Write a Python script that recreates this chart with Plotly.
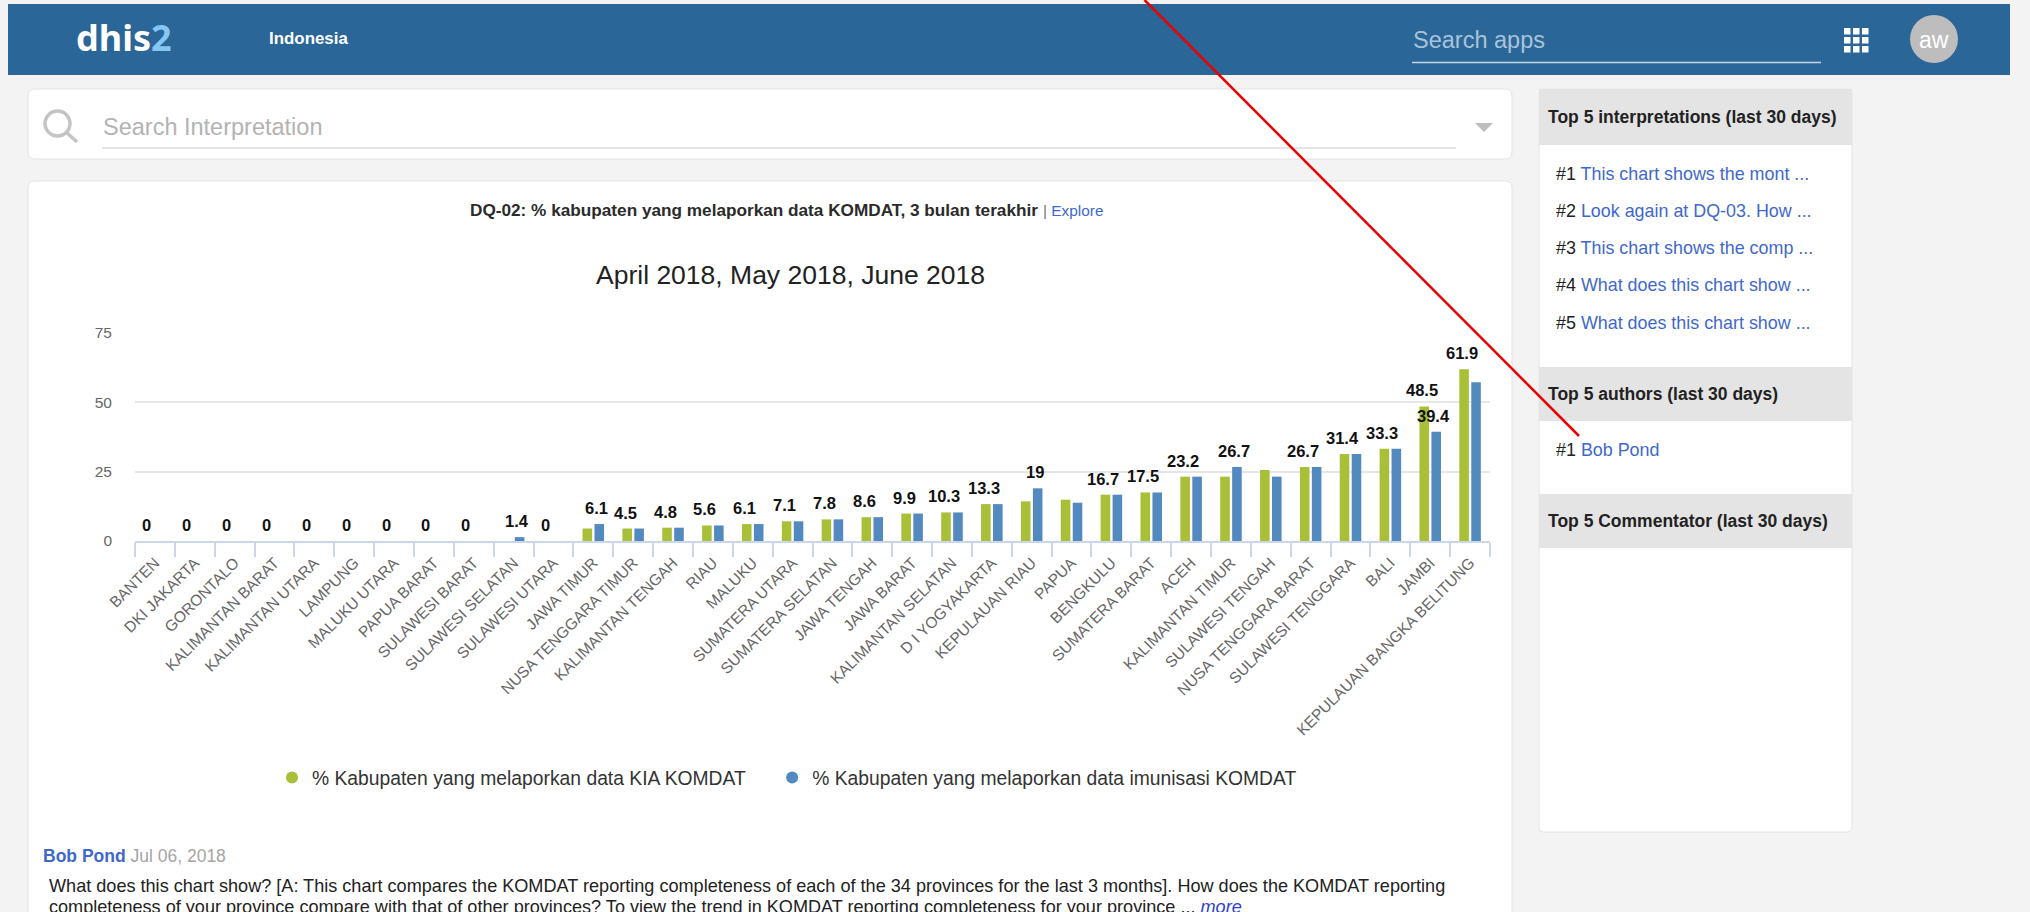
import plotly.graph_objects as go

W, H = 2030, 912

categories = ["BANTEN", "DKI JAKARTA", "GORONTALO", "KALIMANTAN BARAT", "KALIMANTAN UTARA", "LAMPUNG",
              "MALUKU UTARA", "PAPUA BARAT", "SULAWESI BARAT", "SULAWESI SELATAN", "SULAWESI UTARA",
              "JAWA TIMUR", "NUSA TENGGARA TIMUR", "KALIMANTAN TENGAH", "RIAU", "MALUKU", "SUMATERA UTARA",
              "SUMATERA SELATAN", "JAWA TENGAH", "JAWA BARAT", "KALIMANTAN SELATAN", "D I YOGYAKARTA",
              "KEPULAUAN RIAU", "PAPUA", "BENGKULU", "SUMATERA BARAT", "ACEH", "KALIMANTAN TIMUR",
              "SULAWESI TENGAH", "NUSA TENGGARA BARAT", "SULAWESI TENGGARA", "BALI", "JAMBI",
              "KEPULAUAN BANGKA BELITUNG"]
kia = [0, 0, 0, 0, 0, 0, 0, 0, 0, 0, 0, 4.5, 4.5, 4.8, 5.6, 6.1, 7.1, 7.8, 8.6, 9.9, 10.3, 13.3,
       14.3, 14.9, 16.7, 17.5, 23.2, 23.2, 25.6, 26.7, 31.4, 33.3, 48.5, 61.9]
imunisasi = [0, 0, 0, 0, 0, 0, 0, 0, 0, 1.4, 0, 6.1, 4.5, 4.8, 5.6, 6.1, 7.1, 7.8, 8.6, 9.9, 10.3, 13.3,
             19, 13.8, 16.7, 17.5, 23.2, 26.7, 23.2, 26.7, 31.4, 33.3, 39.4, 57.2]
# Data labels that are visible in the picture (the others are hidden by overlap)
kia_labels = [0, 0, 0, 0, 0, 0, 0, 0, 0, None, 0, None, 4.5, 4.8, 5.6, 6.1, 7.1, 7.8, 8.6, 9.9, 10.3, 13.3,
              None, None, 16.7, 17.5, 23.2, None, None, 26.7, 31.4, 33.3, 48.5, 61.9]
imunisasi_labels = [None, None, None, None, None, None, None, None, None, 1.4, None, 6.1, None, None, None,
                    None, None, None, None, None, None, None, 19, None, None, None, None, 26.7, None, None,
                    None, None, 39.4, None]
y_ticks = [0, 25, 50, 75]
series_names = ["% Kabupaten yang melaporkan data KIA KOMDAT\u00a0\u00a0\u00a0\u00a0",
                "% Kabupaten yang melaporkan data imunisasi KOMDAT"]
GREEN, BLUE = "#a9bf38", "#5289bf"
FONT = "Liberation Sans"
LINK = "#3f68cc"


def px(x):
    return x / W


def py(y):
    return 1 - y / H


shapes = []
annotations = []


def rect(x0, y0, x1, y1, fill, line=None, layer="below"):
    shapes.append(dict(type="rect", xref="paper", yref="paper", x0=px(x0), x1=px(x1), y0=py(y1), y1=py(y0),
                       fillcolor=fill, line=dict(color=line or "rgba(0,0,0,0)", width=1 if line else 0), layer=layer))


def card(x0, y0, x1, y1, r=7, fill="white", line="#e4e4e4"):
    p = (f"M {px(x0+r)} {py(y0)} L {px(x1-r)} {py(y0)} Q {px(x1)} {py(y0)} {px(x1)} {py(y0+r)} "
         f"L {px(x1)} {py(y1-r)} Q {px(x1)} {py(y1)} {px(x1-r)} {py(y1)} L {px(x0+r)} {py(y1)} "
         f"Q {px(x0)} {py(y1)} {px(x0)} {py(y1-r)} L {px(x0)} {py(y0+r)} Q {px(x0)} {py(y0)} {px(x0+r)} {py(y0)} Z")
    shapes.append(dict(type="path", xref="paper", yref="paper", path=p, fillcolor=fill,
                       line=dict(color=line, width=1), layer="below"))


def seg(x0, y0, x1, y1, color, width=1, layer="below"):
    shapes.append(dict(type="line", xref="paper", yref="paper", x0=px(x0), x1=px(x1), y0=py(y0), y1=py(y1),
                       line=dict(color=color, width=width), layer=layer))


def label(x, y, text, size, color="#222", anchor="left", family=FONT):
    annotations.append(dict(xref="paper", yref="paper", x=px(x), y=py(y), text=text, showarrow=False,
                            xanchor=anchor, yanchor="middle", align="left", borderpad=0,
                            font=dict(family=family, size=size, color=color)))


# Header
rect(8, 4, 2010, 75, "#2a6698")
label(75, 38, '<b>dhis<span style="color:#85c6f2">2</span></b>', 36, "white", family="Noto Sans")
label(268, 39, "<b>Indonesia</b>", 16.9, "white")
label(1412, 40, "Search apps", 23.5, "#a8c3d9")
seg(1412, 62.5, 1821, 62.5, "#c5d6e4", 1.5)
for gx in (1844, 1853, 1862):
    for gy in (28, 37, 46):
        rect(gx, gy, gx + 6.5, gy + 6.5, "white")
shapes.append(dict(type="circle", xref="paper", yref="paper", x0=px(1910), x1=px(1958), y0=py(63), y1=py(15),
                   fillcolor="#bdbdbd", line=dict(width=0), layer="below"))
label(1934, 40, "aw", 23, "white", "center")

# Search card
card(28, 89, 1512, 159)
shapes.append(dict(type="circle", xref="paper", yref="paper", x0=px(45), x1=px(70), y0=py(136), y1=py(111),
                   fillcolor="rgba(0,0,0,0)", line=dict(color="#c4c4c4", width=3.5), layer="below"))
seg(66, 132, 77, 142, "#c4c4c4", 3.5)
label(102, 127, "Search Interpretation", 23.5, "#b3b3b3")
seg(102, 148, 1456, 148, "#dcdcdc", 1.5)
shapes.append(dict(type="path", xref="paper", yref="paper",
                   path=f"M {px(1475)} {py(123)} L {px(1493)} {py(123)} L {px(1484)} {py(132)} Z",
                   fillcolor="#bdbdbd", line=dict(width=0), layer="below"))

# Chart card
card(28, 181, 1512, 930)
label(469, 210, "<b>DQ-02: % kabupaten yang melaporkan data KOMDAT, 3 bulan terakhir</b>", 17.2, "#2b2b2b")
label(1042, 210, f'<span style="color:#777">|</span> <span style="color:{LINK}">Explore</span>', 15.4)
label(790, 275, "April 2018, May 2018, June 2018", 26.5, "#222", "center")

# Side panel
card(1539, 89, 1852, 832, r=4)
for top, bottom, txt in [(89, 145, "Top 5 interpretations (last 30 days)"),
                         (367, 421, "Top 5 authors (last 30 days)"),
                         (494, 548, "Top 5 Commentator (last 30 days)")]:
    rect(1539, top, 1852, bottom, "#e4e4e4")
    label(1547, (top + bottom) / 2, f"<b>{txt}</b>", 17.5, "#222")
items = ["This chart shows the mont ...", "Look again at DQ-03. How ...", "This chart shows the comp ...",
         "What does this chart show ...", "What does this chart show ..."]
for i, (txt, yy) in enumerate(zip(items, (174, 211, 248, 285, 322.5))):
    label(1555, yy, f'#{i+1} <span style="color:{LINK}">{txt}</span>', 17.9, "#222")
label(1555, 450, f'#1 <span style="color:{LINK}">Bob Pond</span>', 17.9, "#222")

# Interpretation text
label(42, 855.5, f'<span style="color:{LINK}"><b>Bob Pond</b></span> <span style="color:#a5a5a5">Jul 06, 2018</span>', 17.5)
label(48, 885.5, "What does this chart show? [A: This chart compares the KOMDAT reporting completeness of each of the "
                 "34 provinces for the last 3 months]. How does the KOMDAT reporting", 18.1, "#222")
label(48, 906.5, "completeness of your province compare with that of other provinces? To view the trend in KOMDAT "
                 f'reporting completeness for your province ... <i><span style="color:#2f3fd0">more</span></i>', 18.1, "#222")

# Data labels
for name, labels, shift in (("kia", kia_labels, -8), ("imun", imunisasi_labels, 3)):
    for cat, val in zip(categories, labels):
        if val is None:
            continue
        top = kia[categories.index(cat)] if name == "kia" else imunisasi[categories.index(cat)]
        annotations.append(dict(xref="x", yref="y", x=cat, y=top, text=f"<b>{val:g}</b>", showarrow=False,
                                xanchor="center", yanchor="middle", xshift=shift, yshift=16,
                                font=dict(family=FONT, size=16.5, color="#111")))

# Red line over everything
seg(1144.5, 0, 1579, 436, "#ea0000", 2.5, "above")

fig = go.Figure()
fig.add_trace(go.Bar(x=categories, y=kia, marker=dict(color=GREEN, line=dict(width=0)), showlegend=False, cliponaxis=False))
fig.add_trace(go.Bar(x=categories, y=imunisasi, marker=dict(color=BLUE, line=dict(width=0)), showlegend=False, cliponaxis=False))
for nm, col in zip(series_names, (GREEN, BLUE)):
    fig.add_trace(go.Scatter(x=[None], y=[None], mode="markers", name=nm, marker=dict(symbol="circle", size=16, color=col)))

fig.update_layout(
    width=W, height=H, margin=dict(l=0, r=0, t=0, b=0), autosize=False,
    paper_bgcolor="#f3f3f3", plot_bgcolor="rgba(0,0,0,0)",
    barmode="group", bargap=0.4, bargroupgap=0.2,
    font=dict(family=FONT),
    shapes=shapes, annotations=annotations,
    legend=dict(orientation="h", x=px(787), y=py(778), xanchor="center", yanchor="middle",
                bgcolor="rgba(0,0,0,0)", font=dict(family=FONT, size=19.3, color="#333"), itemsizing="constant"),
    xaxis=dict(domain=[px(135), px(1490)], anchor="y", type="category", categoryorder="array", categoryarray=categories,
               range=[-0.5, 33.5], tickson="boundaries", ticks="outside", ticklen=14, tickcolor="#ccd6eb",
               tickwidth=1.5, showline=True, linecolor="#ccd6eb", linewidth=1.5, showgrid=False, zeroline=False,
               automargin=False, tickangle=-45, ticklabelstandoff=5, tickfont=dict(family=FONT, size=15.5, color="#666")),
    yaxis=dict(domain=[py(541), py(333)], anchor="x", range=[0, 75], tickvals=y_ticks, showgrid=True,
               gridcolor="#e6e6e6", gridwidth=1.5, zeroline=False, ticks="", ticklabelstandoff=22, automargin=False,
               tickfont=dict(family=FONT, size=15.5, color="#666")),
)

fig.write_html("out.html", config=dict(displayModeBar=False),
               post_script="document.body.style.margin='0';document.documentElement.style.overflow='hidden';")
